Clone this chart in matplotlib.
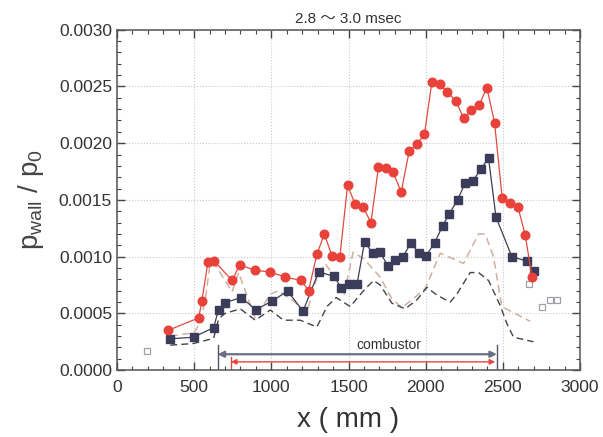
import matplotlib
matplotlib.use('Agg')
import matplotlib.pyplot as plt
import numpy as np

plt.rcParams['font.family'] = ['Liberation Sans', 'Noto Sans CJK JP', 'DejaVu Sans']
plt.rcParams['mathtext.fontset'] = 'custom'
plt.rcParams['mathtext.rm'] = 'Liberation Sans'
plt.rcParams['mathtext.it'] = 'Liberation Sans'

# measured wall pressure, case 1 (red circles)
x_red = [330, 529, 550, 589, 630, 747, 794, 891, 993, 1090, 1194, 1241, 1295, 1343,
         1392, 1444, 1494, 1543, 1593, 1645, 1694, 1744, 1787, 1841, 1893, 1943, 1992,
         2040, 2090, 2141, 2196, 2245, 2295, 2347, 2396, 2446, 2495, 2547, 2597, 2645, 2688]
p_red = [0.00035, 0.00046, 0.00061, 0.00095, 0.00096, 0.00079, 0.00093, 0.00088, 0.000865,
         0.00082, 0.00079, 0.00070, 0.00102, 0.00120, 0.00101, 0.00100, 0.00163, 0.00146,
         0.00144, 0.00130, 0.00179, 0.00178, 0.00175, 0.00157, 0.00193, 0.00199, 0.00208,
         0.00254, 0.00252, 0.00245, 0.00237, 0.00222, 0.00229, 0.00234, 0.00249, 0.00218,
         0.00152, 0.00147, 0.00144, 0.00119, 0.00082]

# measured wall pressure, case 2 (dark squares)
x_blue = [345, 496, 626, 658, 701, 803, 900, 1004, 1105, 1205, 1306, 1407, 1453, 1506,
          1555, 1604, 1656, 1703, 1755, 1803, 1852, 1904, 1956, 2003, 2057, 2109, 2154,
          2206, 2256, 2306, 2357, 2407, 2455, 2558, 2655, 2703]
p_blue = [0.000276, 0.00029, 0.000375, 0.000534, 0.000595, 0.00064, 0.000534, 0.000607,
          0.000698, 0.00052, 0.000865, 0.000827, 0.000724, 0.00076, 0.000757, 0.00113,
          0.00103, 0.00104, 0.00092, 0.00097, 0.00100, 0.00112, 0.00103, 0.00101, 0.00112,
          0.00127, 0.00138, 0.00150, 0.00165, 0.00167, 0.00177, 0.00187, 0.00135, 0.00100,
          0.00096, 0.00087]

# outside points (open squares)
x_open = [194, 2666, 2753, 2802, 2850]
p_open = [0.00017, 0.00076, 0.000557, 0.000616, 0.000616]

# computed curves (dashed)
x_calc1 = [345, 500, 530, 570, 604, 640, 745, 788, 896, 993, 1047, 1133, 1230, 1295,
           1349, 1420, 1470, 1530, 1600, 1705, 1780, 1846, 1910, 1997, 2094, 2180,
           2245, 2342, 2385, 2439, 2493, 2677]
p_calc1 = [0.00030, 0.00033, 0.00040, 0.00060, 0.00095, 0.00092, 0.00069, 0.00086,
           0.000455, 0.00067, 0.00070, 0.00062, 0.00051, 0.00082, 0.00094, 0.00080,
           0.00066, 0.00104, 0.00098, 0.00082, 0.00063, 0.00055, 0.00062, 0.00072,
           0.00103, 0.00098, 0.00094, 0.00120, 0.00120, 0.00100, 0.00056, 0.00043]
x_calc2 = [345, 496, 626, 658, 700, 799, 896, 993, 1079, 1187, 1295, 1360, 1420, 1511,
           1597, 1662, 1705, 1781, 1867, 1943, 2008, 2073, 2159, 2202, 2288, 2342, 2407,
           2482, 2526, 2569, 2698]
p_calc2 = [0.00022, 0.000235, 0.00028, 0.00045, 0.00050, 0.00054, 0.00044, 0.00053,
           0.00044, 0.00044, 0.00038, 0.00056, 0.00064, 0.00056, 0.00070, 0.00079,
           0.00075, 0.00059, 0.00054, 0.00062, 0.00073, 0.00066, 0.00060, 0.00067,
           0.00086, 0.00086, 0.00079, 0.00057, 0.00041, 0.00029, 0.00025]

comb_outer = [652, 2461]
comb_inner = [738, 2450]

fig = plt.figure(figsize=(6.03, 4.37), dpi=100)
ax = fig.add_axes([0.194, 0.153, 0.768, 0.779])

ax.plot(x_calc1, p_calc1, color='#cfb0a0', linestyle=(0, (5, 3)), linewidth=1.1, zorder=2)
ax.plot(x_calc2, p_calc2, color='#44444c', linestyle=(0, (5, 3)), linewidth=1.0, zorder=2)

ax.plot(x_red, p_red, color='#e04a3c', linewidth=0.9, marker='o', markersize=6.2,
        markerfacecolor='#e8423a', markeredgecolor='#e8423a', zorder=4)
ax.plot(x_blue, p_blue, color='#3e3e50', linewidth=0.9, marker='s', markersize=5.2,
        markerfacecolor='#3a3c5a', markeredgecolor='#3a3c5a', zorder=3)
ax.plot(x_open, p_open, linestyle='none', marker='s', markersize=5,
        markerfacecolor='white', markeredgecolor='#a0a0a8', markeredgewidth=0.9, zorder=3)

# combustor span
ax.plot([comb_outer[0]] * 2, [0, 0.00022], color='#555566', linewidth=1.0)
ax.plot([comb_outer[1]] * 2, [0, 0.00022], color='#555566', linewidth=1.0)
ax.plot([comb_inner[0]] * 2, [0, 0.00012], color='#e04a3c', linewidth=1.0)
ax.annotate('', xy=(comb_outer[0], 0.00014), xytext=(comb_outer[1], 0.00014),
            arrowprops=dict(arrowstyle='<|-|>', color='#6a6e84', lw=1.6,
                            mutation_scale=9, shrinkA=0, shrinkB=0))
ax.annotate('', xy=(comb_inner[0], 0.000073), xytext=(comb_inner[1], 0.000073),
            arrowprops=dict(arrowstyle='<|-|>', color='#e04a3c', lw=1.0,
                            mutation_scale=8, shrinkA=0, shrinkB=0))
ax.text(1764, 0.00022, 'combustor', ha='center', va='center', fontsize=10, color='#333333',
        bbox=dict(facecolor='white', edgecolor='none', pad=0.5))

ax.set_xlim(0, 3000)
ax.set_ylim(0, 0.003)
ax.set_xticks(np.arange(0, 3001, 500))
ax.set_yticks(np.arange(0, 0.00301, 0.0005))
ax.set_yticklabels(['%.4f' % v for v in np.arange(0, 0.00301, 0.0005)])
ax.set_xticks(np.arange(0, 3001, 100), minor=True)
ax.set_yticks(np.arange(0, 0.00301, 0.0001), minor=True)
ax.tick_params(which='both', direction='in', top=True, right=True, colors='#444444',
               labelcolor='#333333', labelsize=12.5)
ax.tick_params(which='major', length=6, width=1)
ax.tick_params(which='minor', length=3, width=0.8)
ax.tick_params(axis='x', pad=7)
ax.grid(True, which='major', color='#c8c8c8', linestyle=':', linewidth=0.8)
for s in ax.spines.values():
    s.set_color('#555555')
    s.set_linewidth(1.1)

ax.set_xlabel('x ( mm )', fontsize=20, color='#333333', labelpad=9)
ax.set_ylabel(r'p$_{\mathrm{wall}}$ / p$_{0}$', fontsize=20, color='#444444', labelpad=9)
ax.set_title('2.8 ～ 3.0 msec', fontsize=11, color='#333333', pad=5)

plt.savefig('out.png', dpi=100)
